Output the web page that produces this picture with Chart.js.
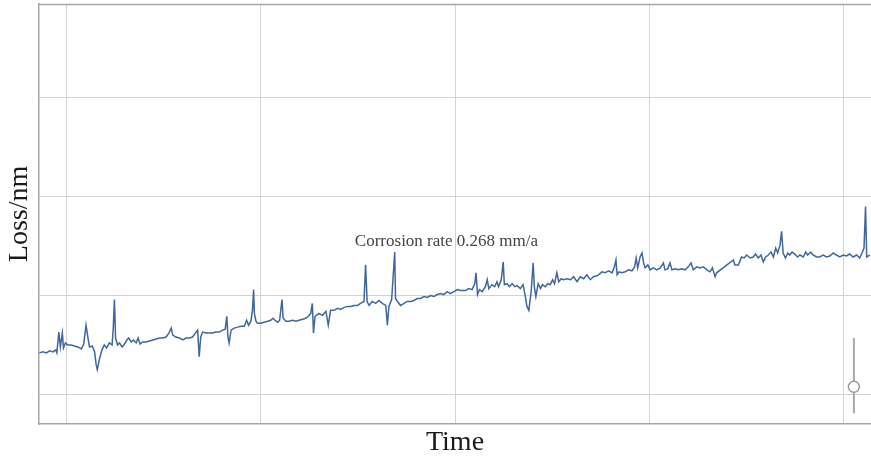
<!DOCTYPE html>
<html>
<head>
<meta charset="utf-8">
<title>Loss vs Time</title>
<script src="https://cdn.jsdelivr.net/npm/chart.js@4/dist/chart.umd.min.js"></script>
<style>
  html, body { margin: 0; padding: 0; background: #fff; }
  #wrap { width: 871px; height: 459px; }
</style>
</head>
<body>
<div id="wrap"><canvas id="lossChart" width="871" height="459"></canvas></div>
<script>
// --- data (time in days, loss in nm) ---
const timeDays = [
  -6.9, -6.0, -5.1, -4.3, -3.4, -2.7, -2.4, -1.9, -1.5, -1.0, -0.7, -0.2, 0.4, 1.3, 2.1, 3.0, 3.9, 4.5, 5.1, 5.6,
  6.0, 6.7, 7.3, 7.7, 8.0, 8.5, 9.2, 9.8, 10.4, 11.1, 11.8, 12.1, 12.4, 12.7, 13.2, 13.7, 14.4, 15.0, 15.6, 16.1,
  16.7, 17.3, 18.0, 18.5, 19.0, 19.7, 20.5, 21.4, 22.3, 23.1, 24.0, 24.8, 25.7, 26.4, 27.0, 27.4, 28.2, 29.1, 30.0, 30.8,
  31.7, 32.5, 33.4, 33.8, 34.2, 34.6, 35.1, 35.9, 36.8, 37.7, 38.5, 39.4, 40.2, 40.9, 41.3, 41.6, 41.9, 42.4, 43.2, 44.1,
  44.9, 45.8, 46.4, 46.9, 47.5, 47.9, 48.2, 48.4, 48.8, 49.2, 50.1, 50.9, 51.8, 52.6, 53.2, 53.7, 54.4, 54.9, 55.5, 55.8,
  56.5, 57.3, 58.2, 59.1, 59.9, 60.8, 61.6, 62.3, 62.9, 63.3, 63.6, 64.0, 65.0, 65.9, 66.8, 67.4, 68.0, 68.9, 69.8, 70.6,
  71.5, 72.3, 73.2, 74.0, 74.9, 75.7, 76.6, 77.0, 77.4, 77.9, 78.7, 79.6, 80.4, 81.3, 82.2, 82.6, 83.0, 83.7, 84.5, 84.7,
  85.2, 86.0, 86.9, 87.7, 88.6, 89.4, 90.3, 91.1, 92.0, 92.9, 93.7, 94.6, 95.4, 96.3, 97.1, 98.0, 98.8, 99.7, 100.6, 101.4,
  102.7, 103.5, 104.4, 105.1, 105.4, 105.8, 106.3, 107.0, 107.8, 108.3, 108.7, 109.5, 110.2, 110.8, 111.2, 111.9, 112.4, 112.7, 113.4, 114.0,
  114.7, 115.4, 116.0, 116.8, 117.5, 118.1, 118.5, 119.0, 119.3, 119.6, 120.1, 120.4, 120.8, 121.4, 122.0, 122.5, 123.2, 123.9, 124.5, 125.1,
  125.6, 126.2, 126.7, 127.3, 127.9, 128.8, 129.7, 130.5, 131.4, 132.2, 133.1, 133.9, 134.8, 135.6, 136.5, 136.9, 137.8, 138.6, 139.5, 140.4,
  141.0, 141.4, 141.7, 142.2, 142.9, 143.8, 144.6, 145.5, 146.2, 146.6, 147.0, 147.6, 148.1, 148.5, 148.9, 149.6, 150.2, 151.0, 151.9, 152.8,
  153.6, 154.0, 154.7, 155.3, 155.8, 156.6, 157.5, 158.3, 159.2, 160.0, 160.7, 161.3, 162.2, 163.0, 163.9, 164.8, 165.6, 166.2, 166.9, 167.3,
  171.6, 172.0, 172.9, 173.7, 174.4, 175.0, 175.9, 176.7, 177.3, 178.0, 178.7, 179.3, 179.9, 180.6, 181.3, 181.9, 182.5, 183.0, 183.6, 184.0,
  184.4, 185.0, 185.6, 186.1, 186.7, 187.4, 188.1, 188.7, 189.6, 190.2, 190.7, 191.5, 192.1, 193.0, 193.8, 194.7, 195.6, 196.4, 197.3, 198.1,
  199.0, 199.8, 200.7, 201.5, 202.4, 203.3, 204.1, 204.7, 205.2, 205.6, 205.9, 206.7
];
const lossNm = [
  42, 43, 42, 44, 43, 45, 42, 63, 48, 62, 47, 52, 50, 50, 49, 48, 46, 51, 70, 57,
  48, 49, 43, 30, 25, 35, 45, 50, 47, 52, 50, 67, 96, 57, 50, 52, 48, 51, 55, 57,
  53, 55, 52, 57, 51, 53, 53, 54, 55, 56, 57, 57, 58, 62, 67, 60, 58, 57, 55, 57,
  57, 58, 63, 65, 38, 58, 63, 62, 62, 62, 63, 63, 65, 66, 79, 58, 52, 65, 67, 68,
  69, 69, 75, 70, 74, 85, 106, 82, 74, 72, 72, 73, 74, 75, 77, 75, 73, 75, 96, 77,
  74, 74, 75, 74, 75, 76, 77, 79, 82, 92, 62, 79, 82, 80, 84, 70, 85, 85, 87, 86,
  88, 89, 89, 90, 90, 92, 94, 131, 94, 90, 94, 92, 95, 92, 90, 70, 89, 96, 144, 97,
  94, 90, 92, 94, 94, 95, 97, 97, 99, 98, 100, 99, 101, 102, 101, 104, 102, 104, 106, 105,
  105, 107, 106, 112, 123, 101, 106, 104, 109, 116, 107, 111, 109, 114, 109, 116, 134, 111, 112, 109,
  112, 109, 110, 107, 111, 99, 89, 85, 95, 104, 133, 109, 99, 112, 107, 111, 109, 112, 111, 116,
  112, 123, 114, 117, 116, 117, 116, 119, 114, 119, 117, 121, 116, 119, 120, 121, 124, 123, 125, 123,
  129, 136, 121, 124, 123, 124, 126, 125, 129, 138, 128, 139, 143, 133, 128, 131, 126, 128, 126, 128,
  133, 126, 127, 133, 126, 127, 126, 127, 126, 129, 133, 126, 129, 128, 129, 126, 124, 128, 119, 123,
  136, 131, 131, 139, 138, 141, 138, 139, 142, 138, 141, 134, 139, 141, 144, 139, 148, 143, 151, 165,
  143, 138, 143, 141, 144, 142, 139, 141, 139, 144, 141, 144, 141, 139, 139, 141, 139, 140, 143, 141,
  139, 141, 140, 142, 139, 141, 138, 143, 148, 190, 139, 141
];

// grid positions (labels are not shown)
const xGrid = [0, 50, 100, 150, 200];
const yGrid = [0, 100, 200, 300];

// note over the trend line
const noteText = 'Corrosion rate 0.268 mm/a';
const notePos = [97.8, 155];

// small range marker near the right end
const markerTime = [202.6, 202.6];
const markerRange = [57, -19];
const markerKnob = 7.6;

const frameColor = '#a6a6a6';

const framePlugin = {
  id: 'frameTop',
  afterDraw(chart) {
    const { ctx, chartArea } = chart;
    ctx.save();
    ctx.strokeStyle = frameColor;
    ctx.lineWidth = 1.5;
    ctx.beginPath();
    ctx.moveTo(chartArea.left, chartArea.top + 0.5);
    ctx.lineTo(chartArea.right, chartArea.top + 0.5);
    ctx.stroke();
    ctx.restore();
  }
};

const notePlugin = {
  id: 'rateNote',
  afterDatasetsDraw(chart) {
    const { ctx, scales } = chart;
    ctx.save();
    ctx.font = '17px "Liberation Serif", "Times New Roman", serif';
    ctx.fillStyle = '#444';
    ctx.textAlign = 'center';
    ctx.textBaseline = 'middle';
    ctx.fillText(noteText, scales.x.getPixelForValue(notePos[0]), scales.y.getPixelForValue(notePos[1]));
    ctx.restore();
  }
};

new Chart(document.getElementById('lossChart'), {
  type: 'line',
  data: {
    datasets: [
      {
        data: timeDays.map((t, i) => ({ x: t, y: lossNm[i] })),
        borderColor: '#3f679c',
        borderWidth: 1.5,
        pointRadius: 0,
        tension: 0,
        order: 1
      },
      {
        data: markerTime.map((t, i) => ({ x: t, y: markerRange[i] })),
        borderColor: '#a9a9a9',
        borderWidth: 2,
        pointRadius: 0,
        order: 2
      },
      {
        // knob sits on top of the marker bar
        type: 'scatter',
        data: [{ x: markerTime[0], y: markerKnob }],
        pointRadius: 5.5,
        pointBackgroundColor: '#ffffff',
        pointBorderColor: '#9c9c9c',
        pointBorderWidth: 1.5,
        order: 0
      }
    ]
  },
  options: {
    responsive: false,
    animation: false,
    layout: { autoPadding: false, padding: { top: 4, right: 0, left: 0, bottom: 0 } },
    plugins: {
      legend: { display: false },
      tooltip: { enabled: false }
    },
    scales: {
      x: {
        type: 'linear',
        min: -7,
        max: 207,
        afterBuildTicks: s => { s.ticks = xGrid.map(v => ({ value: v })); },
        afterFit: s => { s.height = 35; },
        ticks: { display: false },
        grid: { color: '#d3d3d3', lineWidth: 1, drawTicks: false },
        border: { color: frameColor, width: 1.5 },
        title: {
          display: true,
          text: 'Time',
          color: '#1a1a1a',
          font: { family: '"Liberation Serif", "Times New Roman", serif', size: 28 },
          padding: { top: 0, bottom: 0 }
        }
      },
      y: {
        min: -30,
        max: 395,
        afterBuildTicks: s => { s.ticks = yGrid.map(v => ({ value: v })); },
        afterFit: s => { s.width = 39; },
        ticks: { display: false },
        grid: { color: '#d3d3d3', lineWidth: 1, drawTicks: false },
        border: { color: frameColor, width: 1.5 },
        title: {
          display: true,
          text: 'Loss/nm',
          color: '#1a1a1a',
          font: { family: '"Liberation Serif", "Times New Roman", serif', size: 28 },
          padding: { top: 3, bottom: 0 }
        }
      }
    }
  },
  plugins: [framePlugin, notePlugin]
});
</script>
</body>
</html>
